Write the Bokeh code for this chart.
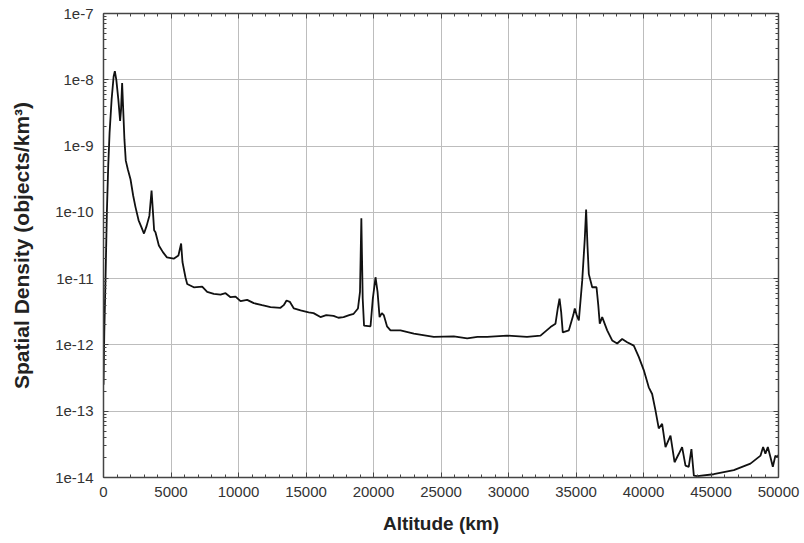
from bokeh.plotting import figure
from bokeh.models import (Range1d, FixedTicker, LinearAxis, LogAxis,
                          CustomJSTickFormatter)
from bokeh.embed import file_html
from bokeh.resources import INLINE

# ---- data ----
altitude_km = [
    0, 60, 150, 250, 350, 450, 600, 750, 840, 950, 1100, 1230, 1300, 1380,
    1450, 1550, 1650, 1800, 2000, 2200, 2370, 2600, 2800, 3000, 3200, 3400,
    3560, 3650, 3750, 3850, 4100, 4400, 4700, 5200, 5550, 5750, 5850, 6070,
    6200, 6690, 7310, 7680, 8170, 8670, 9040, 9410, 9780, 10150, 10640,
    11130, 11750, 12370, 13110, 13350, 13560, 13800, 14100, 14600, 15200,
    15560, 16070, 16500, 17040, 17400, 17780, 18200, 18530, 18850, 19000,
    19100, 19200, 19300, 19780, 19950, 20150, 20300, 20450, 20620, 20760,
    21000, 21260, 22000, 22990, 24460, 25950, 26940, 27700, 28420, 29900,
    31370, 32370, 33110, 33480, 33650, 33780, 33900, 34020, 34470, 34800,
    34910, 35050, 35210, 35460, 35650, 35750, 35850, 35950, 36200, 36520,
    36650, 36760, 36940, 37310, 37680, 38050, 38420, 38790, 39280, 39650,
    40020, 40390, 40640, 40890, 41130, 41380, 41630, 42000, 42300, 42600,
    42860, 43110, 43350, 43550, 43730, 43980, 45200, 46690, 47920, 48670,
    48860, 49030, 49210, 49400, 49580, 49770, 49900, 50000,
]
density = [
    2.51e-13, 1.58e-12, 1.0e-11, 1.0e-10, 5.01e-10, 1.58e-9, 5.01e-9,
    1.12e-8, 1.35e-8, 1.0e-8, 5.01e-9, 2.40e-9, 3.55e-9, 8.91e-9,
    3.98e-9, 1.26e-9, 6.03e-10, 4.47e-10, 3.16e-10, 1.78e-10, 1.20e-10,
    7.59e-11, 6.03e-11, 4.79e-11, 6.31e-11, 8.91e-11, 2.14e-10, 1.12e-10,
    5.37e-11, 5.01e-11, 3.16e-11, 2.51e-11, 2.09e-11, 2.00e-11, 2.24e-11,
    3.39e-11, 1.78e-11, 1.05e-11, 8.32e-12, 7.41e-12, 7.59e-12, 6.31e-12,
    5.89e-12, 5.75e-12, 6.03e-12, 5.25e-12, 5.37e-12, 4.57e-12, 4.79e-12,
    4.27e-12, 3.98e-12, 3.72e-12, 3.63e-12, 3.98e-12, 4.68e-12, 4.47e-12,
    3.55e-12, 3.31e-12, 3.09e-12, 3.02e-12, 2.63e-12, 2.82e-12, 2.75e-12,
    2.57e-12, 2.63e-12, 2.82e-12, 2.95e-12, 3.55e-12, 6.31e-12, 8.13e-11,
    5.01e-12, 1.95e-12, 1.91e-12, 5.01e-12, 1.05e-11, 6.31e-12, 2.63e-12,
    3.02e-12, 2.82e-12, 1.91e-12, 1.66e-12, 1.66e-12, 1.48e-12, 1.32e-12,
    1.35e-12, 1.26e-12, 1.32e-12, 1.32e-12, 1.38e-12, 1.32e-12, 1.38e-12,
    1.86e-12, 2.09e-12, 3.55e-12, 5.01e-12, 3.16e-12, 1.55e-12, 1.66e-12,
    2.82e-12, 3.55e-12, 2.82e-12, 2.34e-12, 9.33e-12, 3.98e-11, 1.10e-10,
    3.16e-11, 1.17e-11, 7.41e-12, 7.41e-12, 3.98e-12, 2.09e-12, 2.63e-12,
    1.66e-12, 1.17e-12, 1.05e-12, 1.23e-12, 1.10e-12, 9.77e-13, 6.61e-13,
    4.17e-13, 2.29e-13, 1.82e-13, 1.02e-13, 5.50e-14, 6.46e-14, 2.88e-14,
    4.27e-14, 1.70e-14, 2.24e-14, 2.88e-14, 1.51e-14, 1.45e-14, 2.69e-14,
    1.07e-14, 1.05e-14, 1.12e-14, 1.29e-14, 1.62e-14, 2.14e-14, 2.88e-14,
    2.29e-14, 2.88e-14, 2.04e-14, 1.45e-14, 2.14e-14, 2.04e-14, 2.19e-14,
]
x_ticks = [0, 5000, 10000, 15000, 20000, 25000, 30000, 35000, 40000, 45000, 50000]
x_minor = list(range(0, 50001, 1000))
y_ticks = [1e-14, 1e-13, 1e-12, 1e-11, 1e-10, 1e-9, 1e-8, 1e-7]
y_minor = [m * t for t in y_ticks[:-1] for m in range(2, 10)]

FONT = "Liberation Sans"
AX = "#444444"

p = figure(width=800, height=540, output_backend="svg", toolbar_location=None,
           x_range=Range1d(0, 50000), y_range=Range1d(1e-14, 1e-7),
           y_axis_type="log",
           min_border_left=103, min_border_right=22, min_border_top=13,
           min_border_bottom=63)
p.outline_line_color = None
p.background_fill_color = "white"
p.border_fill_color = "white"

p.line(altitude_km, density, line_color="#111111", line_width=1.8)

xt = FixedTicker(ticks=x_ticks, minor_ticks=x_minor)
yt = FixedTicker(ticks=y_ticks, minor_ticks=y_minor)

p.xaxis.ticker = xt
p.yaxis.ticker = yt
p.xgrid.ticker = xt
p.ygrid.ticker = yt
p.grid.grid_line_color = "#bdbdbd"
p.grid.grid_line_width = 1

p.yaxis.formatter = CustomJSTickFormatter(
    code="return '1e' + Math.round(Math.log10(tick));")

for ax in (p.xaxis[0], p.yaxis[0]):
    ax.axis_line_color = AX
    ax.axis_line_width = 1.5
    ax.major_tick_line_color = AX
    ax.minor_tick_line_color = AX
    ax.major_tick_in = 5
    ax.major_tick_out = 0
    ax.minor_tick_in = 3
    ax.minor_tick_out = 0
    ax.major_label_text_font = FONT
    ax.major_label_text_font_size = "15px"
    ax.major_label_text_color = "#333333"
    ax.axis_label_text_font = FONT
    ax.axis_label_text_font_style = "bold"
    ax.axis_label_text_color = "#222222"

p.xaxis.axis_label = "Altitude (km)"
p.yaxis.axis_label = "Spatial Density (objects/km³)"
p.xaxis.axis_label_text_font_size = "19px"
p.yaxis.axis_label_text_font_size = "21px"
p.xaxis.major_label_standoff = 9
p.xaxis.axis_label_standoff = 13
p.yaxis.major_label_standoff = 10
p.yaxis.axis_label_standoff = 19

blank = CustomJSTickFormatter(code="return '';")
top = LinearAxis(ticker=xt, formatter=blank)
right = LogAxis(ticker=yt, formatter=blank)
for ax in (top, right):
    ax.axis_line_color = AX
    ax.axis_line_width = 1.5
    ax.major_tick_line_color = AX
    ax.minor_tick_line_color = AX
    ax.major_tick_in = 5
    ax.major_tick_out = 0
    ax.minor_tick_in = 3
    ax.minor_tick_out = 0
    ax.major_label_text_font_size = "0px"
    ax.major_label_standoff = 0
p.add_layout(top, "above")
p.add_layout(right, "right")

open("out.html", "w").write(file_html(p, INLINE))
